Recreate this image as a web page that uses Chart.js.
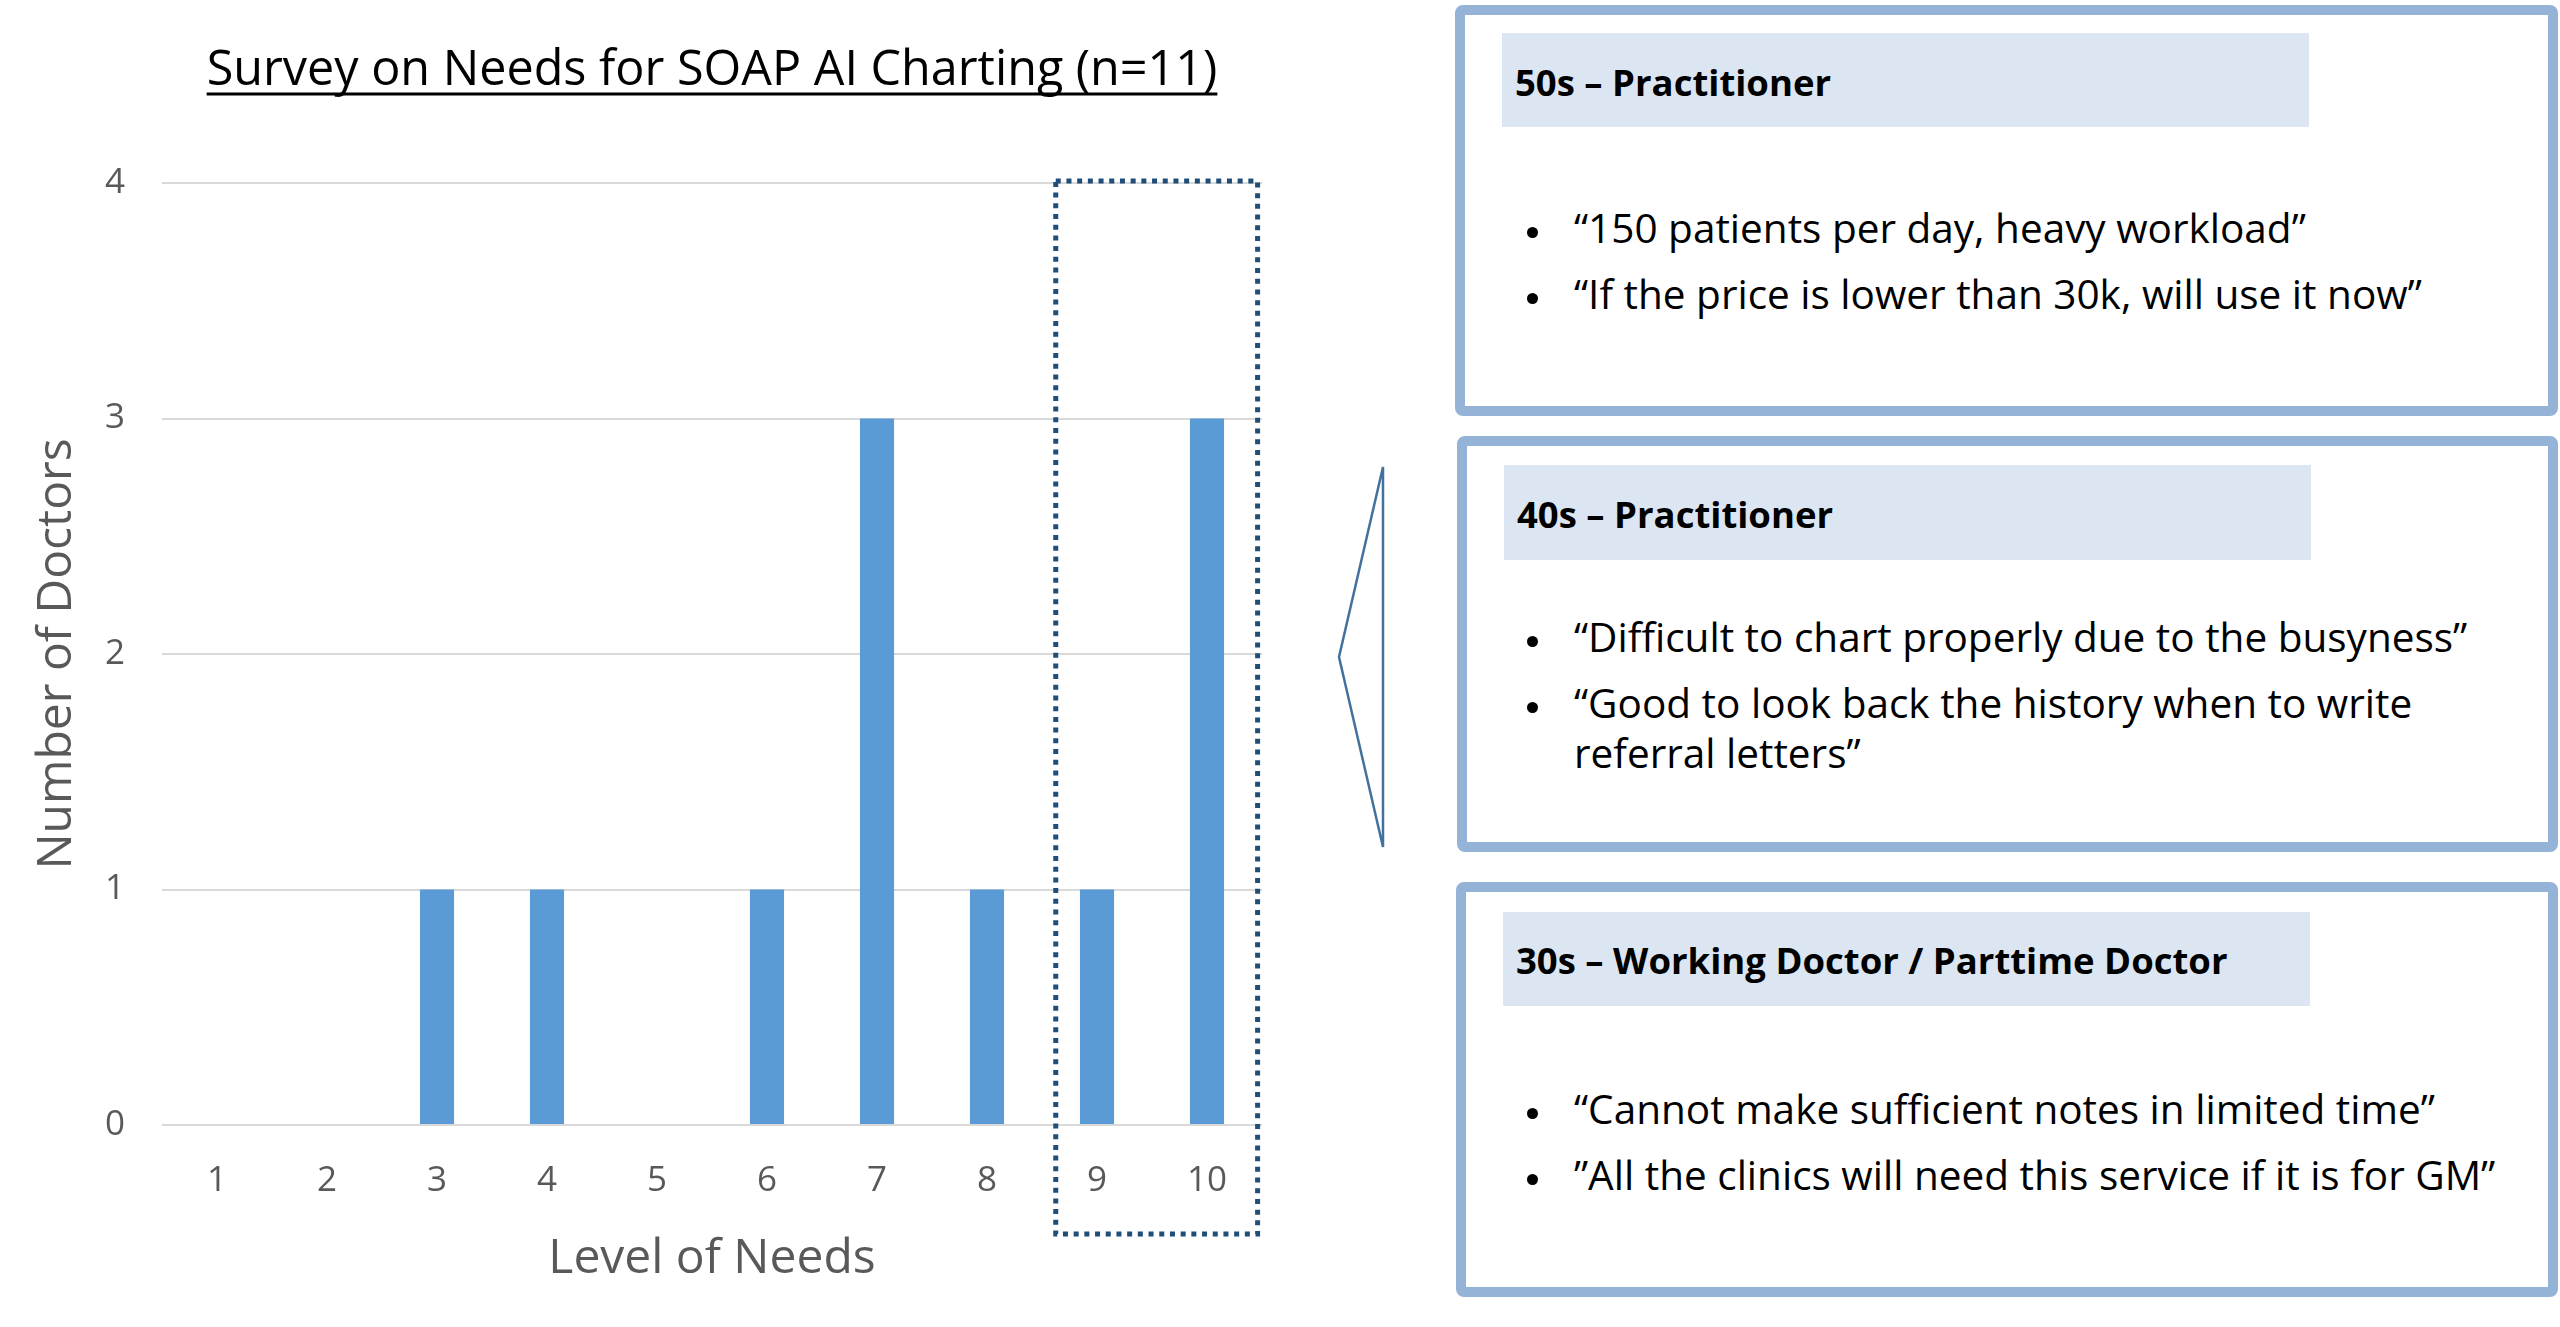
<!DOCTYPE html>
<html>
<head>
<meta charset="utf-8">
<title>Survey on Needs for SOAP AI Charting</title>
<script src="https://cdn.jsdelivr.net/npm/chart.js@4.4.1/dist/chart.umd.min.js"></script>
<style>
  html, body { margin: 0; padding: 0; background: #fff; }
  body { width: 2560px; height: 1327px; position: relative; overflow: hidden; font-family: 'Open Sans', 'Noto Sans', sans-serif; color: #000; }
  #chartWrap { position: absolute; left: 0; top: 0; width: 1440px; height: 1327px; }
  .panel { position: absolute; box-sizing: border-box; border: 10px solid #95B3D7; border-radius: 8px; background: #fff; }
  .head { position: absolute; box-sizing: border-box; background: #DCE6F2; padding-left: 13px; font-weight: 700; font-size: 36.5px; white-space: nowrap; }
  .ln { position: absolute; left: 1574px; height: 50px; line-height: 50px; font-size: 40.5px; white-space: nowrap; }
  .dot { position: absolute; left: 1527px; width: 11px; height: 11px; border-radius: 50%; background: #000; }
  #wedge { position: absolute; left: 1330px; top: 460px; }
</style>
</head>
<body>

<div id="chartWrap"><canvas id="needsChart" width="1440" height="1327"></canvas></div>

<!-- callout wedge pointing at the chart -->
<svg id="wedge" width="60" height="395">
  <polygon points="53,7 9,197 53,387" fill="none" stroke="#41719C" stroke-width="2.5" stroke-linejoin="miter"/>
</svg>

<!-- ── Panel 1 ─────────────────────────────── -->
<div class="panel" style="left:1455px; top:5px; width:1103px; height:411px;"></div>
<div class="head" style="left:1502px; top:33px; width:807px; height:94px; line-height:98px;">50s – Practitioner</div>
<div class="dot" style="top:227px;"></div>
<div class="ln" style="top:203px;">“150 patients per day, heavy workload”</div>
<div class="dot" style="top:293px;"></div>
<div class="ln" style="top:269px;">“If the price is lower than 30k, will use it now”</div>

<!-- ── Panel 2 ─────────────────────────────── -->
<div class="panel" style="left:1457px; top:436px; width:1101px; height:416px;"></div>
<div class="head" style="left:1504px; top:465px; width:807px; height:95px; line-height:98px;">40s – Practitioner</div>
<div class="dot" style="top:636px;"></div>
<div class="ln" style="top:612px;">“Difficult to chart properly due to the busyness”</div>
<div class="dot" style="top:702px;"></div>
<div class="ln" style="top:678px;">“Good to look back the history when to write</div>
<div class="ln" style="top:728px;">referral letters”</div>

<!-- ── Panel 3 ─────────────────────────────── -->
<div class="panel" style="left:1456px; top:882px; width:1102px; height:415px;"></div>
<div class="head" style="left:1503px; top:912px; width:807px; height:94px; line-height:97px;">30s – Working Doctor / Parttime Doctor</div>
<div class="dot" style="top:1108px;"></div>
<div class="ln" style="top:1084px;">“Cannot make sufficient notes in limited time”</div>
<div class="dot" style="top:1174px;"></div>
<div class="ln" style="top:1150px;">”All the clinics will need this service if it is for GM”</div>

<script>
// ── Data ─────────────────────────────────────────────────────
const levels       = ['1', '2', '3', '4', '5', '6', '7', '8', '9', '10'];
const doctorCounts = [0, 0, 1, 1, 0, 1, 3, 1, 1, 3];
const yTicks       = [0, 1, 2, 3, 4];
const highlightLevels = ['9', '10'];   // dotted frame around these

const chartTitle = 'Survey on Needs for SOAP AI Charting (n=11)';
const xTitle     = 'Level of Needs';
const yTitle     = 'Number of Doctors';

// ── Style ────────────────────────────────────────────────────
const FONT      = "'Open Sans', 'Noto Sans', sans-serif";
const AXIS_GREY = '#595959';
const GRID_GREY = '#D9D9D9';
const BAR_BLUE  = '#5B9BD5';
const NAVY      = '#1F4E79';

// Underline the chart title (Chart.js has no text-decoration)
const titleUnderline = {
    id: 'titleUnderline',
    afterDraw(chart) {
        const tb = chart.titleBlock;
        if (!tb) return;
        const ctx = chart.ctx;
        ctx.save();
        ctx.font = '48.5px ' + FONT;
        const w  = ctx.measureText(chartTitle).width;
        const cx = (tb.left + tb.right) / 2;
        ctx.strokeStyle = '#000';
        ctx.lineWidth = 3;
        ctx.beginPath();
        ctx.moveTo(cx - w / 2, 94);
        ctx.lineTo(cx + w / 2, 94);
        ctx.stroke();
        ctx.restore();
    }
};

// Dotted frame around the highlighted levels, placed from the scales
const highlightFrame = {
    id: 'highlightFrame',
    afterDraw(chart) {
        const x = chart.scales.x, y = chart.scales.y;
        const cw = x.width / levels.length;
        const first = levels.indexOf(highlightLevels[0]);
        const last  = levels.indexOf(highlightLevels[highlightLevels.length - 1]);
        const left   = x.getPixelForValue(first) - cw * 0.375;
        const right  = x.getPixelForValue(last) + cw * 0.46;
        const top    = y.getPixelForValue(yTicks[yTicks.length - 1]) - 2;
        const bottom = chart.chartArea.bottom + 109;
        const ctx = chart.ctx;
        ctx.save();
        ctx.strokeStyle = NAVY;
        ctx.lineWidth = 5;
        ctx.lineCap = 'butt';
        ctx.setLineDash([5, 5.7]);
        ctx.strokeRect(left, top, right - left, bottom - top);
        ctx.restore();
    }
};

const ctx = document.getElementById('needsChart').getContext('2d');
new Chart(ctx, {
    type: 'bar',
    data: {
        labels: levels,
        datasets: [{
            label: yTitle,
            data: doctorCounts,
            backgroundColor: BAR_BLUE,
            borderWidth: 0,
            barPercentage: 0.31,
            categoryPercentage: 1
        }]
    },
    options: {
        responsive: false,
        devicePixelRatio: 1,
        animation: false,
        layout: { padding: { left: 0, right: 178, top: 0, bottom: 0 } },
        plugins: {
            legend: { display: false },
            tooltip: { enabled: false },
            title: {
                display: true,
                text: chartTitle,
                fullSize: false,
                color: '#000',
                font: { family: FONT, size: 48.5, weight: 'normal', lineHeight: 1.2 },
                padding: { top: 42, bottom: 82.8 }
            }
        },
        scales: {
            x: {
                grid: { display: false },
                border: { display: false },
                ticks: { color: AXIS_GREY, font: { family: FONT, size: 35 }, padding: 27 },
                title: {
                    display: true, text: xTitle, color: AXIS_GREY,
                    font: { family: FONT, size: 48, lineHeight: 1.2 },
                    padding: { top: 0, bottom: 39 }
                },
                afterFit(scale) { scale.height = 202; }
            },
            y: {
                min: yTicks[0],
                max: yTicks[yTicks.length - 1],
                grid: { color: GRID_GREY, lineWidth: 2, drawTicks: false },
                border: { display: false },
                ticks: {
                    stepSize: 1, color: AXIS_GREY, padding: 37,
                    font: { family: FONT, size: 35 }
                },
                title: {
                    display: true, text: yTitle, color: AXIS_GREY,
                    font: { family: FONT, size: 48, lineHeight: 1.2 },
                    padding: { top: 29, bottom: 0 }
                },
                afterFit(scale) { scale.width = 162; }
            }
        }
    },
    plugins: [titleUnderline, highlightFrame]
});
</script>
</body>
</html>
